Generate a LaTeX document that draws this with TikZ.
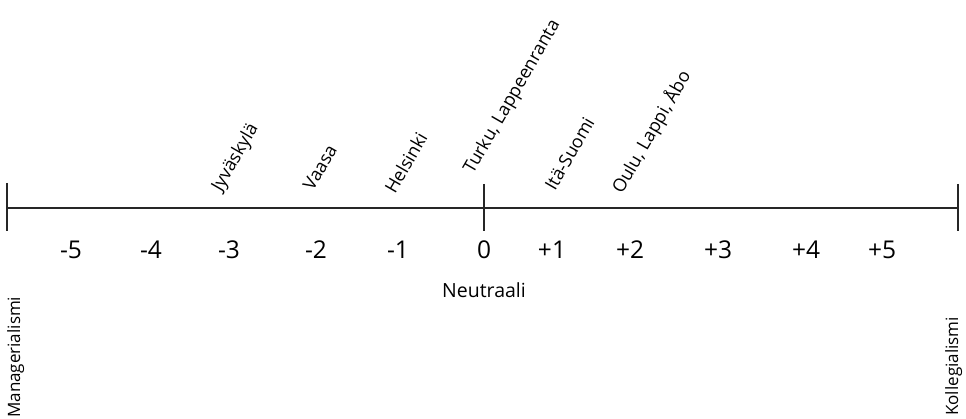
\documentclass[tikz,border=0pt]{standalone}
\usepackage{fontspec}
\setmainfont{Open Sans}
\begin{document}
\begin{tikzpicture}[x=1pt,y=-1pt,
  axis/.style={line width=1.1pt,draw=black!85},
  num/.style={font=\fontsize{24.5}{28}\selectfont,inner sep=0pt,anchor=center},
  city/.style={font=\fontsize{18}{21}\selectfont,inner sep=0pt,anchor=base west,rotate=60},
  endlab/.style={font=\fontsize{17}{21}\selectfont,inner sep=0pt,rotate=90,anchor=base west},
  neut/.style={font=\fontsize{19.5}{23}\selectfont,inner sep=0pt,anchor=center}]
\useasboundingbox (0,0) rectangle (966,419);
\coordinate (L) at (7,208);
\coordinate (R) at (958,208);
\coordinate (M) at (484,208);
\coordinate (Lt) at (7,183);
\coordinate (Lb) at (7,231);
\coordinate (Rt) at (958,184);
\coordinate (Rb) at (958,231);
\coordinate (Mt) at (484,184);
\coordinate (Mb) at (484,231);
\draw[axis] (L) -- (R);
\draw[axis] (Lt) -- (Lb);
\draw[axis] (Rt) -- (Rb);
\draw[axis] (Mt) -- (Mb);
\node[num] (n-5) at (71,250) {-5};
\node[num] (n-4) at (151,250) {-4};
\node[num] (n-3) at (229,250) {-3};
\node[num] (n-2) at (316,250) {-2};
\node[num] (n-1) at (398,250) {-1};
\node[num] (n0) at (484,250) {0};
\node[num] (n1) at (552,250) {+1};
\node[num] (n2) at (630,250) {+2};
\node[num] (n3) at (718,250) {+3};
\node[num] (n4) at (806,250) {+4};
\node[num] (n5) at (882,250) {+5};
\node[neut] (neut) at (484,290) {Neutraali};
\node[endlab] (man) at (20,418) {Managerialismi};
\node[endlab] (kol) at (958,416) {Kollegialismi};
\node[city] (jyv) at (221,193) {Jyväskylä};
\node[city] (vaa) at (313,192) {Vaasa};
\node[city] (hel) at (395,195) {Helsinki};
\node[city] (tur) at (473,175) {Turku, Lappeenranta};
\node[city] (ita) at (555,192) {Itä-Suomi};
\node[city] (oul) at (622,195) {Oulu, Lappi, Åbo};
\end{tikzpicture}
\end{document}
